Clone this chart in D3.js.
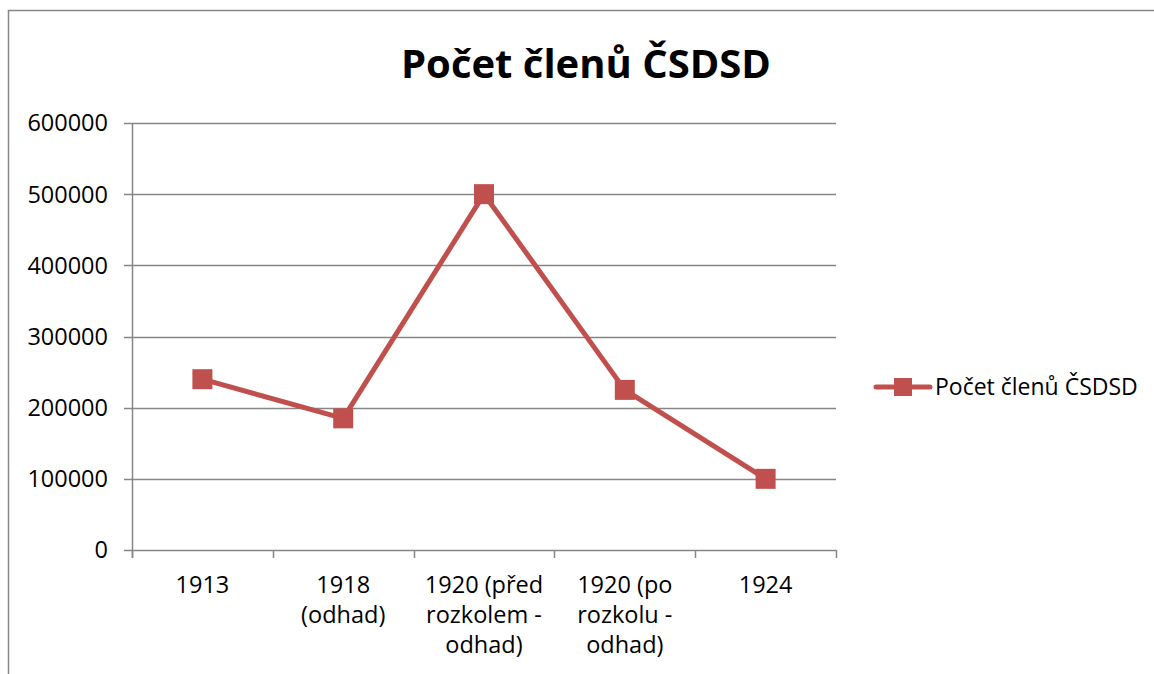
<!DOCTYPE html>
<html><head><meta charset="utf-8">
<script src="https://cdn.jsdelivr.net/npm/d3@7"></script>
<style>body{margin:0;background:#fff}svg{display:block}text{font-family:"Open Sans",sans-serif;fill:#000}</style>
</head><body>
<svg id="c" width="1154" height="674"></svg>
<script>
const title = "Počet členů ČSDSD";
const seriesName = "Počet členů ČSDSD";
const categories = ["1913", "1918\n(odhad)", "1920 (před\nrozkolem -\nodhad)", "1920 (po\nrozkolu -\nodhad)", "1924"];
const values = [240000, 185000, 500000, 225000, 100000];
const yTicks = [0, 100000, 200000, 300000, 400000, 500000, 600000];

const svg = d3.select("#c");
const W = 1154, H = 674;
const m = {left: 132, right: 836, top: 123, bottom: 550};
const color = "#C0504D", grid = "#868686";

svg.append("rect").attr("x", 8.5).attr("y", 10.5).attr("width", W + 10).attr("height", H + 10)
  .attr("fill", "#fff").attr("stroke", "#878787").attr("stroke-width", 1.5);

const x = d3.scaleBand().domain(categories).range([m.left, m.right]);
const y = d3.scaleLinear().domain([0, 600000]).range([m.bottom, m.top]);

// gridlines
svg.append("g").selectAll("line").data(yTicks).join("line")
  .attr("x1", m.left - 8).attr("x2", m.right)
  .attr("y1", d => Math.round(y(d)) + 0.5).attr("y2", d => Math.round(y(d)) + 0.5)
  .attr("stroke", grid).attr("stroke-width", 1.5);

// y axis line
svg.append("line").attr("x1", m.left + 0.5).attr("x2", m.left + 0.5)
  .attr("y1", m.top).attr("y2", m.bottom + 8).attr("stroke", grid).attr("stroke-width", 1.5);

// x ticks
const xb = categories.map(c => x(c)).concat([m.right]);
svg.append("g").selectAll("line").data(xb).join("line")
  .attr("x1", d => Math.round(d) + 0.5).attr("x2", d => Math.round(d) + 0.5)
  .attr("y1", m.bottom).attr("y2", m.bottom + 8).attr("stroke", grid).attr("stroke-width", 1.5);

// y labels
svg.append("g").selectAll("text").data(yTicks).join("text")
  .attr("x", 108).attr("y", d => y(d)).attr("dy", "0.36em")
  .attr("text-anchor", "end").style("font-size", "23.5px").text(d => d);

// x labels
const xl = svg.append("g").selectAll("text").data(categories).join("text")
  .attr("text-anchor", "middle").style("font-size", "23.5px")
  .attr("transform", d => `translate(${x(d) + x.bandwidth() / 2},593)`);
xl.selectAll("tspan").data(d => d.split("\n")).join("tspan")
  .attr("x", 0).attr("dy", (d, i) => i === 0 ? 0 : 30).text(d => d);

// line
const line = d3.line().x((d, i) => x(categories[i]) + x.bandwidth() / 2).y(d => y(d));
svg.append("path").datum(values).attr("d", line).attr("fill", "none")
  .attr("stroke", color).attr("stroke-width", 5).attr("stroke-linejoin", "round");
svg.append("g").selectAll("rect").data(values).join("rect")
  .attr("x", (d, i) => x(categories[i]) + x.bandwidth() / 2 - 10)
  .attr("y", d => y(d) - 10).attr("width", 20).attr("height", 20).attr("fill", color);

// title
svg.append("text").attr("x", 586).attr("y", 78).attr("text-anchor", "middle")
  .style("font-size", "40px").style("font-weight", "bold").text(title);

// legend
const ly = 387;
svg.append("line").attr("x1", 876).attr("x2", 930).attr("y1", ly).attr("y2", ly)
  .attr("stroke", color).attr("stroke-width", 5).attr("stroke-linecap", "round");
svg.append("rect").attr("x", 894).attr("y", ly - 9).attr("width", 18).attr("height", 18).attr("fill", color);
svg.append("text").attr("x", 935).attr("y", ly).attr("dy", "0.36em").style("font-size", "23px").text(seriesName);
</script>
</body></html>
